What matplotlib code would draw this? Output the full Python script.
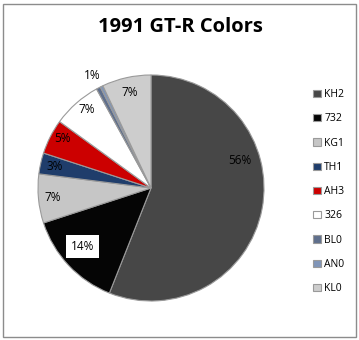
import matplotlib
matplotlib.use("Agg")
import matplotlib.pyplot as plt
import numpy as np
from matplotlib.patches import Rectangle

codes = ["KH2", "732", "KG1", "TH1", "AH3", "326", "BL0", "AN0", "KL0"]
shares = [56, 14, 7, 3, 5, 7, 0.6, 0.4, 7]
colors = ["#474747", "#050505", "#c6c6c6", "#1f3d6b", "#cc0000", "#ffffff",
          "#5f6f8c", "#8095b8", "#cdcdcd"]
title = "1991 GT-R Colors"

W, H = 359, 340
fig = plt.figure(figsize=(W / 100, H / 100), dpi=100)
fig.patch.set_facecolor("white")

# outer chart border
fig.add_artist(Rectangle((3 / W, 3 / H), 353 / W, 333 / H, transform=fig.transFigure,
                         fill=False, edgecolor="#8c8c8c", lw=1))

cx, cy, r = 151, 188, 113
ax = fig.add_axes([(cx - r) / W, (H - cy - r) / H, 2 * r / W, 2 * r / H])

def fmt(p):
    return "" if p < 0.5 else "%.0f%%" % p

wedges, texts, autotexts = ax.pie(
    shares, colors=colors, startangle=90, counterclock=False,
    autopct=fmt, pctdistance=0.87,
    wedgeprops=dict(edgecolor="#9a9a9a", linewidth=0.8),
    textprops=dict(fontsize=8.5, family="Open Sans", color="black"))
ax.set_xlim(-1, 1)
ax.set_ylim(-1, 1)
ax.axis("off")

# label placement tweaks (angle offset in degrees, radial distance)
place = {"KH2": (28, 0.82), "732": (-2.7, 0.8), "AH3": (-2, 0.9),
         "326": (-2, 0.9), "BL0": (0, 1.12)}
for w, t, code in zip(wedges, autotexts, codes):
    t.set_clip_on(False)
    if code in place:
        off, dist = place[code]
        ang = np.deg2rad((w.theta1 + w.theta2) / 2 + off)
        t.set_position((dist * np.cos(ang), dist * np.sin(ang)))
    if code == "732":
        t.set_bbox(dict(facecolor="white", edgecolor="none", pad=3.5))

fig.text(180 / W, 1 - 27 / H, title, ha="center", va="center", fontsize=14.5,
         fontweight="bold", family="Open Sans")

leg = fig.legend(wedges, codes, loc="upper left", bbox_to_anchor=(308 / W, 1 - 84 / H),
                 frameon=False, handlelength=0.7, handleheight=0.7,
                 handletextpad=0.35, labelspacing=1.27, borderpad=0,
                 prop=dict(family="Open Sans", size=7.5))

fig.savefig("out.png", dpi=100)
